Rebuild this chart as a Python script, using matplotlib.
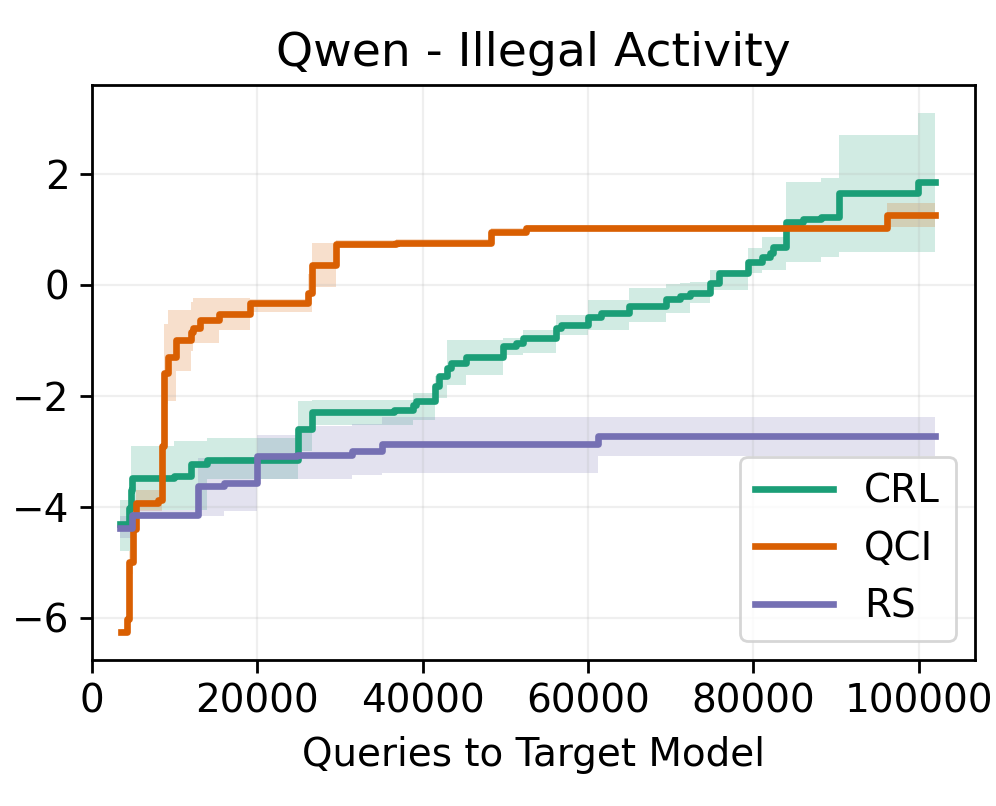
import matplotlib
matplotlib.use("Agg")
import matplotlib.pyplot as plt

# ---------------- data ----------------
crl_x = [3400, 4500, 4700, 4900, 9900, 12000, 14000, 25000, 26700, 36600, 38800, 39250,
         41500, 42000, 42900, 43500, 45300, 49700, 51300, 52100, 56100, 56800, 60000,
         61600, 65000, 69400, 71100, 72300, 74700, 75900, 79300, 80600, 81000, 82000,
         82400, 84000, 86000, 88200, 90400, 99900, 102000]
crl_mean = [-4.31, -4.02, -3.70, -3.48, -3.45, -3.23, -3.16, -2.60, -2.29, -2.25, -2.16, -2.09,
            -1.83, -1.65, -1.50, -1.41, -1.30, -1.10, -1.05, -0.96, -0.78, -0.72, -0.57,
            -0.50, -0.38, -0.25, -0.20, -0.14, 0.04, 0.21, 0.41, 0.42, 0.51, 0.58,
            0.69, 1.14, 1.18, 1.23, 1.65, 1.86, 1.86]
crl_lo = [-4.80, -4.80, -4.10, -4.05, -4.05, -4.05, -3.50, -3.00, -2.52, -2.52, -2.43, -2.43,
          -2.04, -2.04, -1.80, -1.80, -1.62, -1.26, -1.26, -1.23, -0.90, -0.90, -0.81,
          -0.81, -0.66, -0.51, -0.51, -0.32, -0.10, -0.10, 0.21, 0.21, 0.27, 0.27,
          0.27, 0.42, 0.42, 0.51, 0.60, 0.60, 0.60]
crl_hi = [-3.87, -3.87, -2.90, -2.91, -2.81, -2.81, -2.76, -2.10, -2.07, -2.07, -1.95, -1.95,
          -1.65, -1.65, -1.00, -1.00, -1.00, -0.95, -0.95, -0.81, -0.54, -0.54, -0.27,
          -0.27, -0.05, 0.02, 0.04, 0.06, 0.27, 0.27, 0.67, 0.67, 0.87, 0.87,
          0.87, 1.86, 1.86, 1.93, 2.70, 3.10, 3.10]

qci_x = [3600, 4300, 4500, 5000, 5400, 8000, 8500, 8800, 9250, 10250, 12000, 12250, 13050,
         15400, 19200, 26100, 26700, 29500, 36800, 48300, 52500, 96200, 102000]
qci_mean = [-6.25, -6.02, -5.00, -4.40, -3.93, -3.87, -2.90, -1.59, -1.30, -0.99, -0.85, -0.77,
            -0.63, -0.52, -0.33, -0.15, 0.36, 0.74, 0.76, 0.96, 1.03, 1.26, 1.26]
qci_lo = [-6.30, -6.10, -5.20, -4.60, -4.08, -4.08, -3.00, -2.15, -2.10, -1.55, -1.20, -1.05,
          -1.05, -0.81, -0.48, -0.48, -0.04, 0.67, 0.70, 0.90, 0.98, 1.05, 1.05]
qci_hi = [-6.20, -5.90, -4.80, -4.20, -3.70, -3.70, -2.50, -0.70, -0.45, -0.45, -0.30, -0.23,
          -0.23, -0.23, -0.25, 0.20, 0.76, 0.80, 0.82, 1.02, 1.08, 1.48, 1.48]

rs_x = [3400, 4900, 12900, 16000, 20000, 24800, 31500, 35100, 61200, 102000]
rs_mean = [-4.38, -4.14, -3.63, -3.57, -3.09, -3.07, -2.99, -2.87, -2.73, -2.73]
rs_lo = [-4.56, -4.20, -4.17, -4.08, -3.50, -3.50, -3.42, -3.39, -3.09, -3.09]
rs_hi = [-4.17, -4.05, -3.12, -3.10, -2.70, -2.55, -2.50, -2.38, -2.38, -2.38]

labels = ["CRL", "QCI", "RS"]
colors = ["#1b9e77", "#d95f02", "#7570b3"]

title = "Qwen - Illegal Activity"
xlabel = "Queries to Target Model"

# ---------------- plot ----------------
plt.rcParams["font.family"] = ["DejaVu Sans"]
fig = plt.figure(figsize=(4.98, 4.03), dpi=200)
ax = fig.add_axes([0.092, 0.181, 0.887, 0.7135])

series = [(crl_x, crl_mean, crl_lo, crl_hi),
          (qci_x, qci_mean, qci_lo, qci_hi),
          (rs_x, rs_mean, rs_lo, rs_hi)]
for (xs, m, lo, hi), lab, c in zip(series, labels, colors):
    ax.fill_between(xs, lo, hi, step="post", color=c, alpha=0.2, linewidth=0)
    ax.plot(xs, m, drawstyle="steps-post", color=c, lw=2.4, label=lab)

ax.set_xlim(0, 106800)
ax.set_ylim(-6.76, 3.6)
ax.set_xticks([0, 20000, 40000, 60000, 80000, 100000])
ax.set_yticks([-6, -4, -2, 0, 2])
ax.tick_params(labelsize=14, length=4.5, width=1.0)
for s in ax.spines.values():
    s.set_linewidth(1.0)
ax.grid(True, alpha=0.2)
ax.set_title(title, fontsize=17, pad=7)
ax.set_xlabel(xlabel, fontsize=14, labelpad=5.8)
ax.legend(loc="lower right", fontsize=14)

fig.savefig("out.png", dpi=200)
